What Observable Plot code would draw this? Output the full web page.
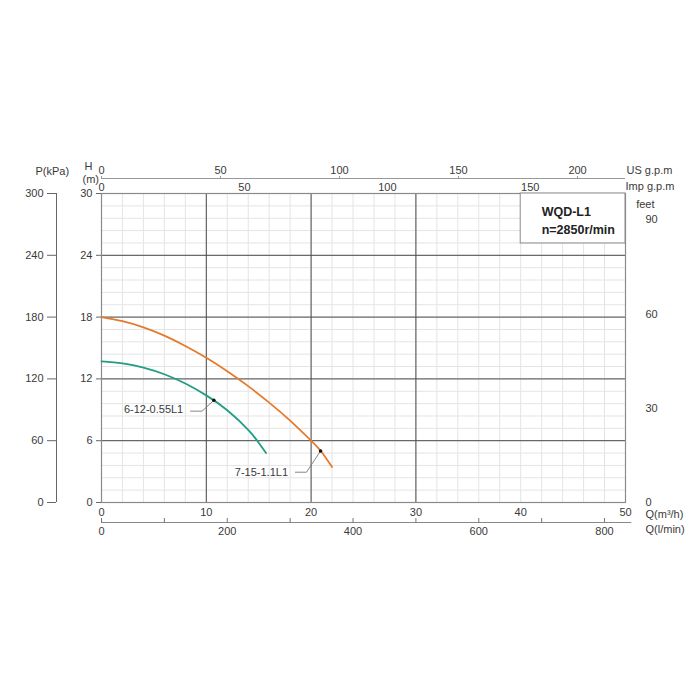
<!DOCTYPE html>
<html>
<head>
<meta charset="utf-8">
<script src="https://cdn.jsdelivr.net/npm/d3@7"></script>
<script src="https://cdn.jsdelivr.net/npm/@observablehq/plot@0.6"></script>
<style>
  html, body { margin: 0; padding: 0; background: #fff; }
  #chart { width: 700px; height: 700px; }
</style>
</head>
<body>
<div id="chart"></div>
<script>
// ---- data ----
const seriesNames = ["6-12-0.55L1", "7-15-1.1L1"];
const q6 = [0, 2, 4, 6, 8, 10, 12, 14, 15, 15.7];
const h6 = [13.7, 13.5, 13.1, 12.45, 11.55, 10.4, 8.95, 7.05, 5.8, 4.8];
const q7 = [0, 2, 4, 6, 8, 10, 12, 14, 16, 18, 20, 21, 22];
const h7 = [18.0, 17.6, 17.0, 16.2, 15.2, 14.05, 12.75, 11.3, 9.7, 7.95, 6.0, 4.9, 3.45];
const seriesColors = ["#1f9e82", "#e57a2e"];
const dotQ = [10.72, 20.9];
const dotH = [9.93, 5.0];
const labelQ = [7.8, 17.8];
const labelH = [9.0, 2.9];
const leaderStartQ = [8.5, 18.5];
const leaderElbowQ = [9.6, 19.56];
const leaderH = [8.87, 2.94];

const qTicks = [0, 10, 20, 30, 40, 50];
const hTicks = [0, 6, 12, 18, 24, 30];
const pTicks = [0, 60, 120, 180, 240, 300];
const feetTicks = [0, 30, 60, 90];
const usTicks = [0, 50, 100, 150, 200];
const impTicks = [0, 50, 100, 150];
const lminTicks = [0, 100, 200, 300, 400, 500, 600, 700, 800];
const boxLines = ["WQD-L1", "n=2850r/min"];

// unit conversions to the primary scales (m3/h and m)
const US = 0.227125, IMP = 0.272765, LMIN = 1 / 16.6667, KPA = 0.1, FT = 1 / 3.28084;

const curves = [];
q6.forEach((q, i) => curves.push({s: seriesNames[0], q, h: h6[i]}));
q7.forEach((q, i) => curves.push({s: seriesNames[1], q, h: h7[i]}));
const dots = seriesNames.map((s, i) => ({s, q: dotQ[i], h: dotH[i]}));
const labels = seriesNames.map((s, i) => ({s, q: labelQ[i], h: labelH[i]}));
const leaders = [];
seriesNames.forEach((s, i) => {
  leaders.push({s, q: leaderStartQ[i], h: leaderH[i]});
  leaders.push({s, q: leaderElbowQ[i], h: leaderH[i]});
  leaders.push({s, q: dotQ[i], h: dotH[i]});
});

const font = "'Liberation Sans', Arial, sans-serif";
const txt = "#3a3a3a";

const chart = Plot.plot({
  width: 700,
  height: 700,
  marginLeft: 101,
  marginRight: 75,
  marginTop: 193,
  marginBottom: 198,
  style: {fontFamily: font, fontSize: "11px", color: txt, background: "#fff"},
  x: {domain: [0, 50], label: null},
  y: {domain: [0, 30], label: null},
  color: {domain: seriesNames, range: seriesColors},
  marks: [
    // minor grid
    Plot.ruleX(d3.range(0, 50.01, 2), {stroke: "#e4e4e4", strokeWidth: 1}),
    Plot.ruleY(d3.range(0, 30.01, 1.2), {stroke: "#e4e4e4", strokeWidth: 1}),
    // major grid
    Plot.ruleX([10, 20, 30], {stroke: "#4a4a4a", strokeWidth: 1}),
    Plot.ruleY([6, 12, 18, 24], {stroke: "#4a4a4a", strokeWidth: 1}),
    Plot.frame({stroke: "#8a8a8a", strokeWidth: 1.2}),
    // info box
    Plot.rect([0], {x1: 40, x2: 50, y1: 25.15, y2: 30, fill: "#fff", stroke: "#8a8a8a", strokeWidth: 1}),
    Plot.text(boxLines, {x: 42, y: (d, i) => [28.2, 26.45][i], text: d => d, textAnchor: "start",
      fontWeight: "bold", fontSize: 12.5, fill: "#222"}),
    // curves
    Plot.line(curves, {x: "q", y: "h", z: "s", stroke: "s", strokeWidth: 1.8, curve: "natural"}),
    Plot.line(leaders, {x: "q", y: "h", z: "s", stroke: "#777", strokeWidth: 0.9}),
    Plot.dot(dots, {x: "q", y: "h", r: 1.8, fill: "#111"}),
    Plot.text(labels, {x: "q", y: "h", text: "s", textAnchor: "end", fontSize: 11, fill: txt}),
    // left H axis
    Plot.axisY(hTicks, {anchor: "left", label: null, tickSize: 5, tickPadding: 4, stroke: "#666", fill: txt, fontSize: 11}),
    // P(kPa) axis
    Plot.ruleX([0], {y1: 0, y2: 30, dx: -45, stroke: "#666"}),
    Plot.axisY(pTicks.map(p => p * KPA), {anchor: "left", label: null, dx: -45, tickSize: 9, tickPadding: 4,
      tickFormat: d => Math.round(d / KPA), stroke: "#666", fill: txt, fontSize: 11}),
    // right feet axis
    Plot.axisY(feetTicks.map(f => f * FT), {anchor: "right", label: null, tickSize: 0, tickPadding: 20,
      tickFormat: d => Math.round(d / FT), fill: txt, fontSize: 11}),
    // bottom Q(m3/h) axis
    Plot.axisX(qTicks, {anchor: "bottom", label: null, tickSize: 0, tickPadding: 6, fill: txt, fontSize: 11}),
    // bottom Q(l/min) axis
    Plot.ruleY([0], {x1: 0, x2: 50.6, dy: 20, stroke: "#888"}),
    Plot.axisX(lminTicks.map(v => v * LMIN), {anchor: "bottom", label: null, dy: 16, tickSize: 5, tickPadding: 4,
      tickFormat: d => { const v = Math.round(d / LMIN); return v % 200 === 0 ? v : ""; },
      stroke: "#777", fill: txt, fontSize: 11}),
    // top US g.p.m axis
    Plot.ruleY([30], {x1: 0, x2: 50, dy: -15, stroke: "#999"}),
    Plot.axisX(usTicks.map(v => v * US), {anchor: "top", label: null, dy: -15, tickSize: 3, tickPadding: 2,
      tickFormat: d => Math.round(d / US), stroke: "#999", fill: txt, fontSize: 11}),
    // top Imp g.p.m axis
    Plot.axisX(impTicks.map(v => v * IMP), {anchor: "top", label: null, tickSize: 0, tickPadding: 3,
      tickFormat: d => Math.round(d / IMP), fill: txt, fontSize: 11}),
    // axis titles
    Plot.text(["P(kPa)"], {frameAnchor: "top-left", dx: -66, dy: -26, fontSize: 11, fill: txt}),
    Plot.text(["H"], {frameAnchor: "top-left", dx: -17, dy: -31, fontSize: 11, fill: txt}),
    Plot.text(["(m)"], {frameAnchor: "top-left", dx: -19, dy: -18, fontSize: 11, fill: txt}),
    Plot.text(["US g.p.m"], {frameAnchor: "top-right", dx: 1, dy: -27, textAnchor: "start", fontSize: 11, fill: txt}),
    Plot.text(["Imp g.p.m"], {frameAnchor: "top-right", dx: 0, dy: -11, textAnchor: "start", fontSize: 11, fill: txt}),
    Plot.text(["feet"], {frameAnchor: "top-right", dx: 29, dy: 7, fontSize: 11, fill: txt}),
    Plot.text(["Q(m³/h)"], {frameAnchor: "bottom-right", dx: 20, dy: 15, textAnchor: "start", fontSize: 11, fill: txt}),
    Plot.text(["Q(l/min)"], {frameAnchor: "bottom-right", dx: 20, dy: 30, textAnchor: "start", fontSize: 11, fill: txt})
  ]
});

document.getElementById("chart").appendChild(chart);
</script>
</body>
</html>
